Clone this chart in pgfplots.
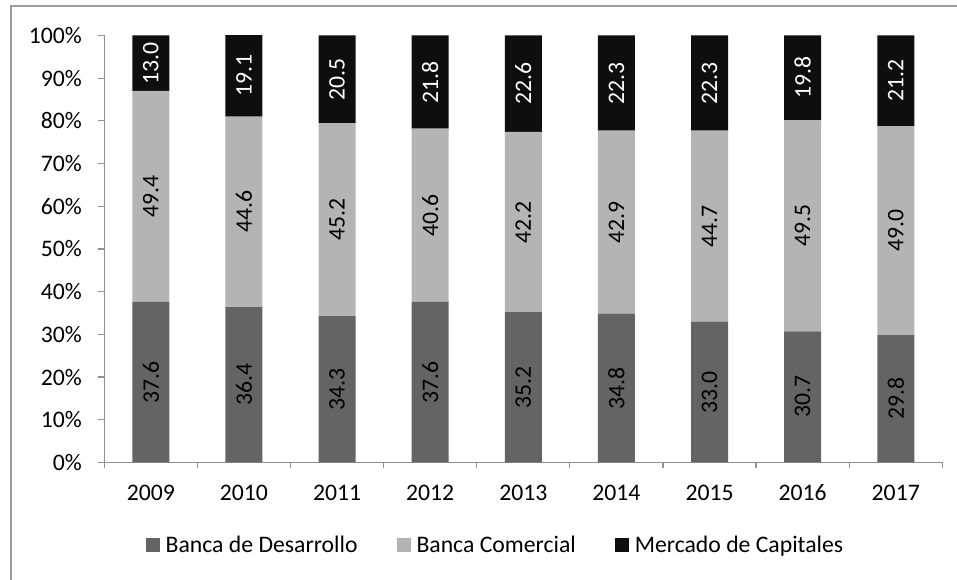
\documentclass[border=0pt]{standalone}
\usepackage{pgfplots}
\pgfplotsset{compat=1.18}
\usepackage{fontspec}
\setmainfont{Carlito}
\definecolor{cDes}{HTML}{646464}
\definecolor{cCom}{HTML}{B4B4B4}
\definecolor{cCap}{HTML}{0E0E0E}
\definecolor{cAx}{HTML}{909090}
\begin{document}
\begin{tikzpicture}[x=1bp,y=1bp,font=\fontsize{23.7bp}{28bp}\selectfont]
\useasboundingbox (0,0) rectangle (957,580);
\draw[cAx!90, line width=1.5bp] (10.8,0) -- (10.8,574) -- (957,574);
\begin{axis}[
  at={(104.3bp,117.5bp)}, anchor=south west,
  scale only axis, width=838bp, height=427bp,
  ybar stacked, bar width=37bp, clip=false,
  xmin=-0.5, xmax=8.5, ymin=0, ymax=100,
  axis x line=bottom, axis y line=left,
  axis line style={cAx, line width=1.2bp, -},
  tick style={cAx, line width=1.2bp},
  tick align=outside, major tick length=6bp,
  xtick={-0.5,0.5,1.5,2.5,3.5,4.5,5.5,6.5,7.5,8.5},
  xticklabels={2009,2010,2011,2012,2013,2014,2015,2016,2017,{}},
  xticklabel style={xshift=46.55bp, yshift=-12bp, text height=16bp, text depth=0pt},
  ytick={0,10,...,100},
  yticklabel={\pgfmathprintnumber{\tick}\%},
  yticklabel style={xshift=-13bp},
  /pgf/number format/assume math mode=true,
  nodes near coords={\pgfmathprintnumber[fixed,fixed zerofill,precision=1]{\pgfplotspointmeta}},
  nodes near coords style={rotate=90, anchor=center},
  legend columns=3,
  legend style={draw=none, fill=none, at={(0.4668,-0.193)}, anchor=center,
    /tikz/every even column/.append style={column sep=37bp}},
  legend image code/.code={\fill[#1] (0,-7bp) rectangle (14bp,7bp); \path (18bp,0);},
]
\addplot[fill=cDes, draw=none] coordinates {(0,37.6) (1,36.4) (2,34.3) (3,37.6) (4,35.2) (5,34.8) (6,33.0) (7,30.7) (8,29.8)};
\addlegendentry{Banca de Desarrollo}
\addplot[fill=cCom, draw=none] coordinates {(0,49.4) (1,44.6) (2,45.2) (3,40.6) (4,42.2) (5,42.9) (6,44.7) (7,49.5) (8,49.0)};
\addlegendentry{Banca Comercial}
\addplot[fill=cCap, draw=none, every node near coord/.append style={text=white}] coordinates {(0,13.0) (1,19.1) (2,20.5) (3,21.8) (4,22.6) (5,22.3) (6,22.3) (7,19.8) (8,21.2)};
\addlegendentry{Mercado de Capitales}
\end{axis}
\end{tikzpicture}
\end{document}
